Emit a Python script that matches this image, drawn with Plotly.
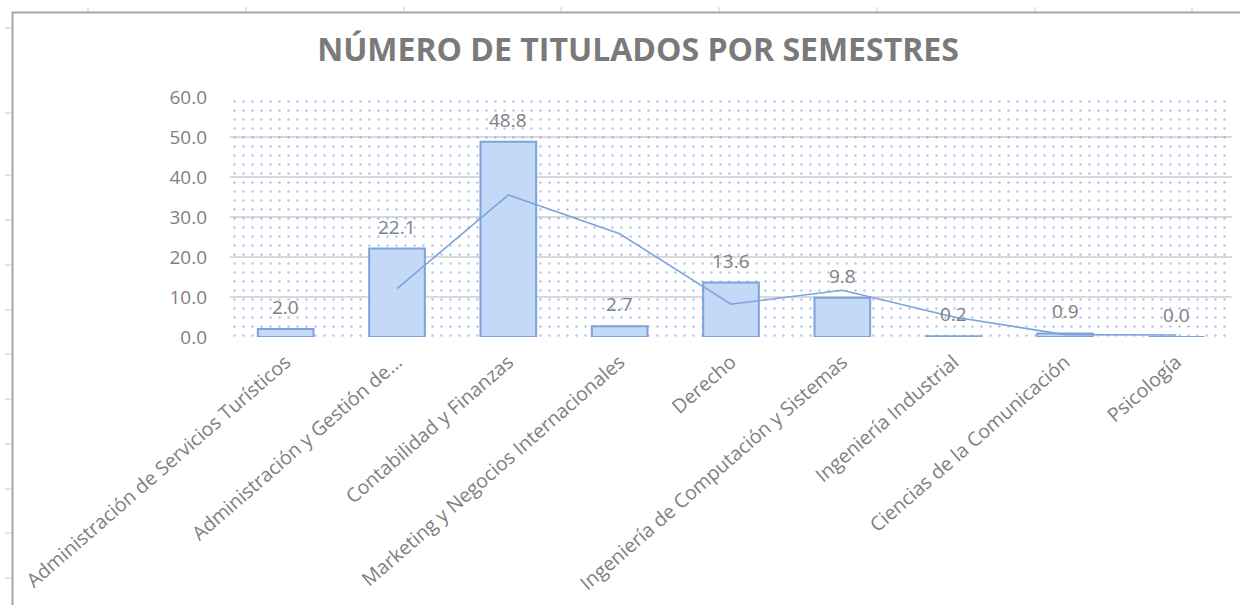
import plotly.graph_objects as go

categories = [
    "Administración de Servicios Turísticos",
    "Administración y Gestión de...",
    "Contabilidad y Finanzas",
    "Marketing y Negocios Internacionales",
    "Derecho",
    "Ingeniería de Computación y Sistemas",
    "Ingeniería Industrial",
    "Ciencias de la Comunicación",
    "Psicología",
]
values = [2.0, 22.1, 48.8, 2.7, 13.6, 9.8, 0.2, 0.9, 0.0]
# trend line (2-period moving average)
trend = [None, 12.1, 35.5, 25.8, 8.2, 11.7, 5.0, 0.6, 0.5]
y_ticks = [0, 10, 20, 30, 40, 50, 60]
title_text = "NÚMERO DE TITULADOS POR SEMESTRES"

FONT = "Open Sans"
GRAY = "#7F7F7F"

W, H = 1240, 605
L, R, T, B = 230, 8, 97, 268
PW, PH = W - L - R, H - T - B


def px_x(px):
    return (px - L) / PW


def px_y(py):
    return (H - B - py) / PH


fig = go.Figure()

# dotted background pattern of plot area
fig.add_trace(go.Bar(
    x=[categories[4]], y=[max(y_ticks)], width=[len(categories)],
    marker=dict(color="rgba(0,0,0,0)", line=dict(width=0),
                pattern=dict(shape=".", fgcolor="#5A92DE", size=9,
                             solidity=0.06, fillmode="overlay")),
    hoverinfo="skip", showlegend=False,
))

fig.add_trace(go.Bar(
    x=categories, y=values,
    marker=dict(color="#C3D9F7", line=dict(color="#7FA3D8", width=2)),
    showlegend=False,
))

fig.add_trace(go.Scatter(
    x=categories, y=trend, mode="lines",
    line=dict(color="#7DA4DA", width=1.6),
    showlegend=False, connectgaps=False,
))

for c, v in zip(categories, values):
    fig.add_annotation(x=c, y=v, text=f"{v:.1f}", showarrow=False,
                       yshift=22, yanchor="middle",
                       font=dict(family=FONT, size=19, color=GRAY))

shapes = []
frame_color = "#A6A6A6"
shapes.append(dict(type="path", xref="paper", yref="paper",
                   path=f"M {px_x(12.5)} {px_y(605)} L {px_x(12.5)} {px_y(12.5)} L {px_x(1240)} {px_y(12.5)}",
                   line=dict(color=frame_color, width=2)))
for tx in [88, 246, 404, 561, 719, 877, 1035, 1192]:
    shapes.append(dict(type="line", xref="paper", yref="paper",
                       x0=px_x(tx), x1=px_x(tx), y0=px_y(7), y1=px_y(11.5),
                       line=dict(color="#C8C8C8", width=1)))
for ty in [28, 113, 175, 220, 265, 310, 354, 399, 444, 489, 533, 578]:
    shapes.append(dict(type="line", xref="paper", yref="paper",
                       x0=px_x(5), x1=px_x(11.5), y0=px_y(ty), y1=px_y(ty),
                       line=dict(color="#C8C8C8", width=1)))

fig.update_layout(
    width=W, height=H,
    margin=dict(l=L, r=R, t=T, b=B, autoexpand=False),
    paper_bgcolor="white", plot_bgcolor="white",
    barmode="overlay", bargap=0.5,
    title=dict(text=title_text, x=638 / W, xanchor="center",
               y=1 - 50 / H, yanchor="middle",
               font=dict(family=FONT, size=32, color="#7A7A7A", weight="bold")),
    shapes=shapes,
    xaxis=dict(type="category", categoryorder="array", categoryarray=categories,
               tickangle=-41, showgrid=False, showline=False, automargin=False,
               ticks="", ticklabelstandoff=9,
               tickfont=dict(family=FONT, size=19.5, color=GRAY),
               range=[-0.5, len(categories) - 0.5], fixedrange=True),
    yaxis=dict(range=[0, 60], tickvals=y_ticks, tickformat=".1f",
               showgrid=True, gridcolor="#D9D9D9", gridwidth=1.5,
               zeroline=False, showline=False, ticks="", automargin=False,
               ticklabelstandoff=22,
               tickfont=dict(family=FONT, size=19, color=GRAY)),
    font=dict(family=FONT, color=GRAY),
)

fig.write_html("out.html")
